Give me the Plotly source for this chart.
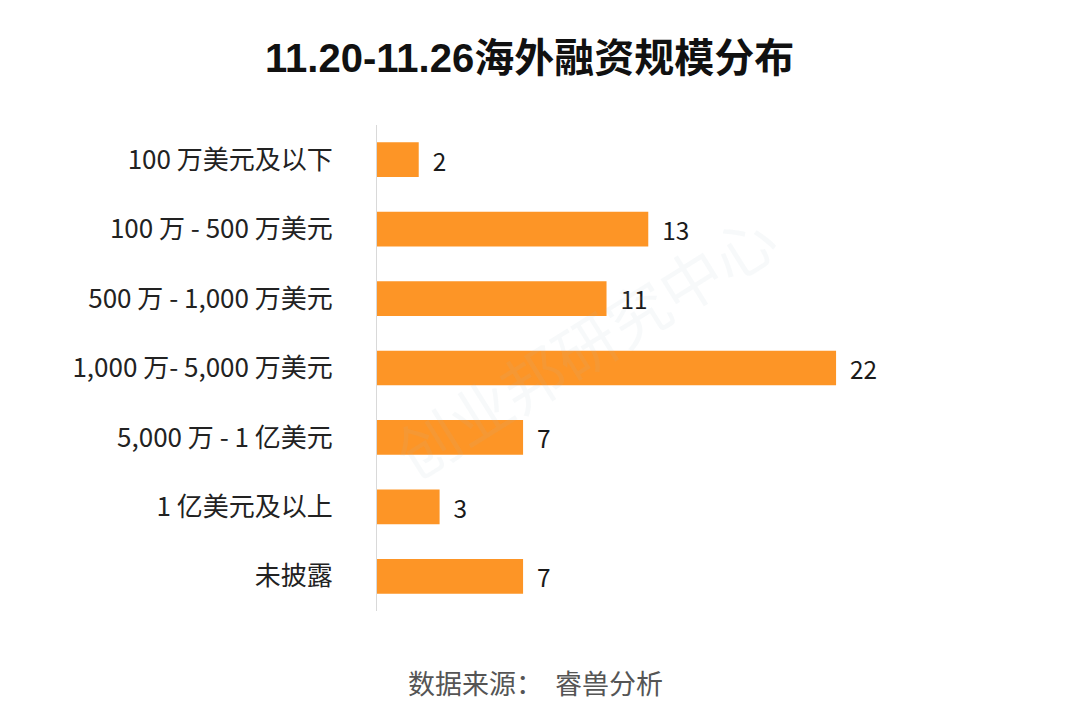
import plotly.graph_objects as go

categories = ['100 万美元及以下', '100 万 - 500 万美元', '500 万 - 1,000 万美元',
              '1,000 万- 5,000 万美元', '5,000 万 - 1 亿美元', '1 亿美元及以上', '未披露']
counts = [2, 13, 11, 22, 7, 3, 7]

font_cjk = 'Noto Sans CJK SC'

fig = go.Figure(go.Bar(
    x=counts, y=categories, orientation='h',
    marker=dict(color='#FD9526', line=dict(width=0)),
    texttemplate='  %{x}', textposition='outside', cliponaxis=False,
    textfont=dict(size=26, color='#1a1a1a', family=font_cjk),
    width=0.5,
))

# the page adds an 8px body margin, so margins are shifted by 8px
fig.update_layout(
    width=1080, height=713,
    paper_bgcolor='white', plot_bgcolor='white',
    margin=dict(l=369, r=85, t=117, b=110, autoexpand=False),
    font=dict(family=font_cjk),
    showlegend=False,
    title=dict(text='<b>11.20-11.26海外融资规模分布</b>', x=0.483, xanchor='center',
               y=0.93, yanchor='middle',
               font=dict(size=40, color='#111', family='Liberation Sans, ' + font_cjk)),
)
fig.update_yaxes(autorange='reversed', showgrid=False, showline=True, linecolor='#d9d9d9',
                 linewidth=1, ticks='', ticklabelstandoff=38, automargin=False,
                 tickfont=dict(size=26, color='#222', family=font_cjk))
fig.update_xaxes(range=[0, 30], visible=False, automargin=False)

# watermark
fig.add_annotation(text='创业邦研究中心', x=0.33, y=0.55, xref='paper', yref='paper',
                   xanchor='center', yanchor='middle',
                   showarrow=False, textangle=-32,
                   font=dict(size=62, color='rgba(170,185,200,0.09)', family=font_cjk))

fig.add_annotation(text='数据来源：  睿兽分析', x=(535 - 377) / 626, y=-(682 - 611) / 486,
                   xref='paper', yref='paper', xanchor='center', yanchor='middle',
                   showarrow=False, font=dict(size=27, color='#555', family=font_cjk))

fig.write_html('out.html')
